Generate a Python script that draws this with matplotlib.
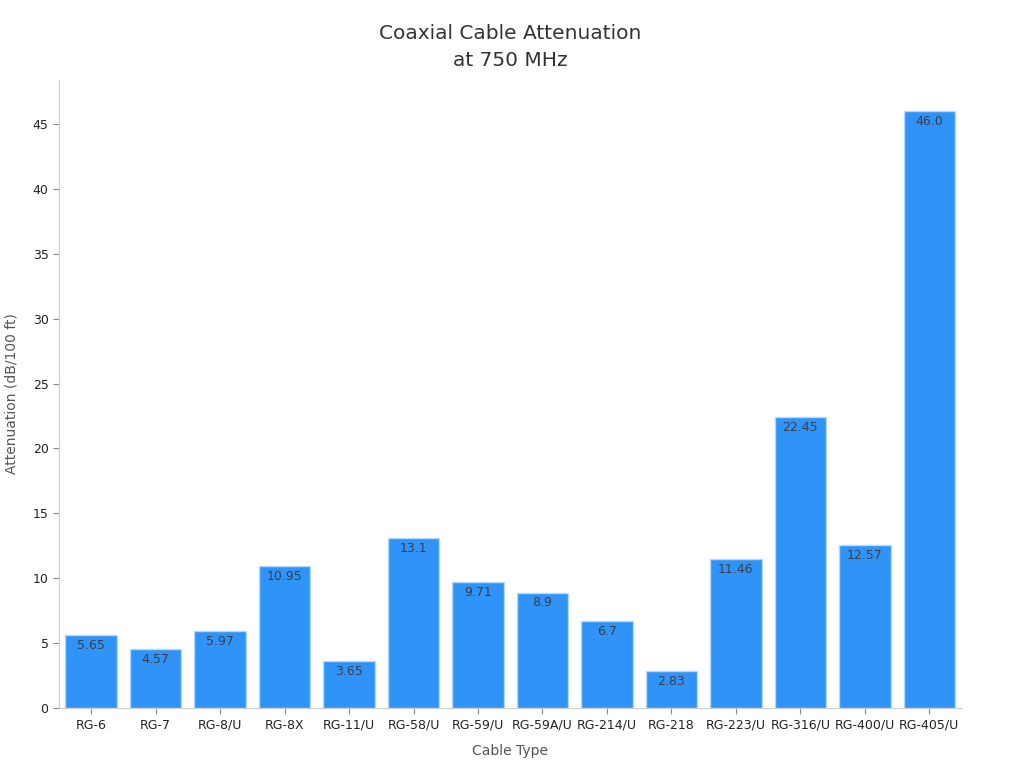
import matplotlib.pyplot as plt
import numpy as np

# data
cables = ["RG-6", "RG-7", "RG-8/U", "RG-8X", "RG-11/U", "RG-58/U", "RG-59/U",
          "RG-59A/U", "RG-214/U", "RG-218", "RG-223/U", "RG-316/U", "RG-400/U", "RG-405/U"]
atten = [5.65, 4.57, 5.97, 10.95, 3.65, 13.1, 9.71, 8.9, 6.7, 2.83, 11.46, 22.45, 12.57, 46.0]
labels = ["5.65", "4.57", "5.97", "10.95", "3.65", "13.1", "9.71", "8.9", "6.7",
          "2.83", "11.46", "22.45", "12.57", "46.0"]

fig = plt.figure(figsize=(10.24, 7.68), dpi=100)
ax = fig.add_axes([0.0576, 0.078, 0.8814, 0.818])

x = np.arange(len(cables))
bars = ax.bar(x, atten, width=0.8, color="#2f93f7", edgecolor="#b5daf9", linewidth=1)

for b, lab in zip(bars, labels):
    ax.text(b.get_x() + b.get_width() / 2, b.get_height() - 0.3, lab,
            ha="center", va="top", fontsize=9, color="#3a3f4a")

ax.set_xlim(-0.5, 13.5)
ax.set_ylim(0, 48.4)
ax.set_xticks(x)
ax.set_xticklabels(cables, fontsize=9, color="#222222")
ax.set_yticks(range(0, 46, 5))
ax.tick_params(axis="y", labelsize=9, colors="#222222")
ax.tick_params(axis="both", color="#888888", length=4)

for s in ["top", "right"]:
    ax.spines[s].set_visible(False)
for s in ["left", "bottom"]:
    ax.spines[s].set_color("#cccccc")

ax.set_xlabel("Cable Type", fontsize=10, color="#555555", labelpad=9)
ax.set_ylabel("Attenuation (dB/100 ft)", fontsize=10, color="#555555", labelpad=10)
ax.set_title("Coaxial Cable Attenuation\nat 750 MHz", fontsize=14.5, color="#333333",
             pad=10, linespacing=1.55)

fig.savefig("out.png", dpi=100)
